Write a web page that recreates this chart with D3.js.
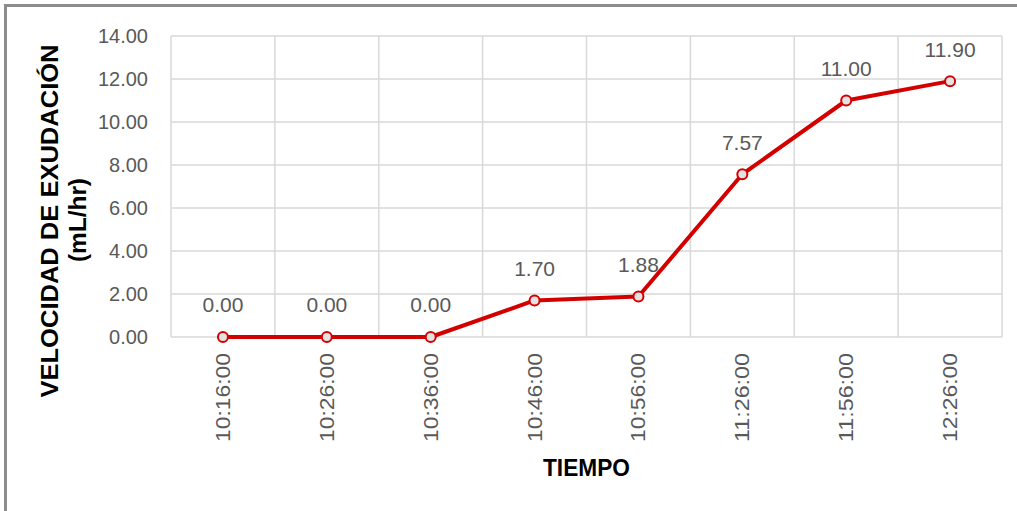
<!DOCTYPE html>
<html>
<head>
<meta charset="utf-8">
<script src="https://cdn.jsdelivr.net/npm/d3@7/dist/d3.min.js"></script>
<style>
  html, body { margin: 0; padding: 0; background: #ffffff; }
  svg { display: block; }
</style>
</head>
<body>
<script>
// Exudation rate over time
const categories = ["10:16:00", "10:26:00", "10:36:00", "10:46:00", "10:56:00", "11:26:00", "11:56:00", "12:26:00"];
const values = [0.00, 0.00, 0.00, 1.70, 1.88, 7.57, 11.00, 11.90];
const yTicks = [0, 2, 4, 6, 8, 10, 12, 14];
const yTitleLines = ["VELOCIDAD DE EXUDACIÓN", "(mL/hr)"];
const xTitle = "TIEMPO";

const W = 1017, H = 511;
const plot = { left: 171, right: 1002, top: 36, bottom: 337 };
const fontFamily = "'Liberation Sans', Arial, sans-serif";
const textGray = "#595959";
const gridGray = "#d9d9d9";
const red = "#d40000";

const svg = d3.select("body").append("svg")
  .attr("width", W).attr("height", H);

// outer frame
svg.append("rect")
  .attr("x", 5.5).attr("y", 5.5)
  .attr("width", W + 20).attr("height", H + 20)
  .attr("fill", "none")
  .attr("stroke", "#8c8c8c")
  .attr("stroke-width", 3);

const x = d3.scaleBand().domain(categories).range([plot.left, plot.right]);
const y = d3.scaleLinear().domain([0, 14]).range([plot.bottom, plot.top]);

// gridlines
const grid = svg.append("g");
grid.selectAll("line.h").data(yTicks).join("line")
  .attr("class", "h")
  .attr("x1", plot.left).attr("x2", plot.right)
  .attr("y1", d => y(d)).attr("y2", d => y(d))
  .attr("stroke", gridGray).attr("stroke-width", 1.5);
const edges = categories.map(c => x(c)).concat([x(categories[categories.length - 1]) + x.bandwidth()]);
grid.selectAll("line.v").data(edges).join("line")
  .attr("class", "v")
  .attr("x1", d => d).attr("x2", d => d)
  .attr("y1", plot.top).attr("y2", plot.bottom)
  .attr("stroke", gridGray).attr("stroke-width", 1.5);

// y axis
const yAxis = svg.append("g")
  .attr("transform", `translate(${plot.left},0)`)
  .call(d3.axisLeft(y).tickValues(yTicks).tickSize(0).tickPadding(23).tickFormat(d3.format(".2f")));
yAxis.select(".domain").remove();
yAxis.selectAll("text")
  .attr("fill", textGray)
  .style("font-family", fontFamily)
  .style("font-size", "20px");

// x axis
const xAxis = svg.append("g")
  .attr("transform", `translate(0,${plot.bottom})`)
  .call(d3.axisBottom(x).tickSize(0));
xAxis.select(".domain").remove();
xAxis.selectAll("text")
  .attr("transform", "rotate(-90)")
  .attr("x", -16).attr("y", 0).attr("dy", "0.35em")
  .attr("textLength", 89).attr("lengthAdjust", "spacingAndGlyphs")
  .style("text-anchor", "end")
  .attr("fill", textGray)
  .style("font-family", fontFamily)
  .style("font-size", "20px");

// series line
const cx = d => x(d.c) + x.bandwidth() / 2;
const data = categories.map((c, i) => ({ c, v: values[i] }));
svg.append("path")
  .datum(data)
  .attr("fill", "none")
  .attr("stroke", red)
  .attr("stroke-width", 4)
  .attr("stroke-linejoin", "round")
  .attr("d", d3.line().x(cx).y(d => y(d.v)));

svg.selectAll("circle.pt").data(data).join("circle")
  .attr("class", "pt")
  .attr("cx", cx).attr("cy", d => y(d.v))
  .attr("r", 5)
  .attr("fill", "#e2e2e2")
  .attr("stroke", red)
  .attr("stroke-width", 2);

// value labels
svg.selectAll("text.lbl").data(data).join("text")
  .attr("class", "lbl")
  .attr("x", cx).attr("y", d => y(d.v) - 32)
  .attr("dy", "0.35em")
  .attr("text-anchor", "middle")
  .attr("fill", textGray)
  .style("font-family", fontFamily)
  .style("font-size", "21px")
  .text(d => d3.format(".2f")(d.v));

// axis titles
svg.append("text")
  .attr("transform", "translate(50,221) rotate(-90)")
  .attr("dy", "0.35em")
  .attr("text-anchor", "middle")
  .attr("textLength", 353).attr("lengthAdjust", "spacingAndGlyphs")
  .style("font-family", fontFamily)
  .style("font-size", "24px")
  .style("font-weight", "bold")
  .attr("fill", "#000")
  .text(yTitleLines[0]);
svg.append("text")
  .attr("transform", "translate(78,220) rotate(-90)")
  .attr("dy", "0.35em")
  .attr("text-anchor", "middle")
  .attr("textLength", 84).attr("lengthAdjust", "spacingAndGlyphs")
  .style("font-family", fontFamily)
  .style("font-size", "24px")
  .style("font-weight", "bold")
  .attr("fill", "#000")
  .text(yTitleLines[1]);

svg.append("text")
  .attr("x", (plot.left + plot.right) / 2)
  .attr("y", 476)
  .attr("text-anchor", "middle")
  .attr("textLength", 87).attr("lengthAdjust", "spacingAndGlyphs")
  .style("font-family", fontFamily)
  .style("font-size", "24px")
  .style("font-weight", "bold")
  .attr("fill", "#000")
  .text(xTitle);
</script>
</body>
</html>
